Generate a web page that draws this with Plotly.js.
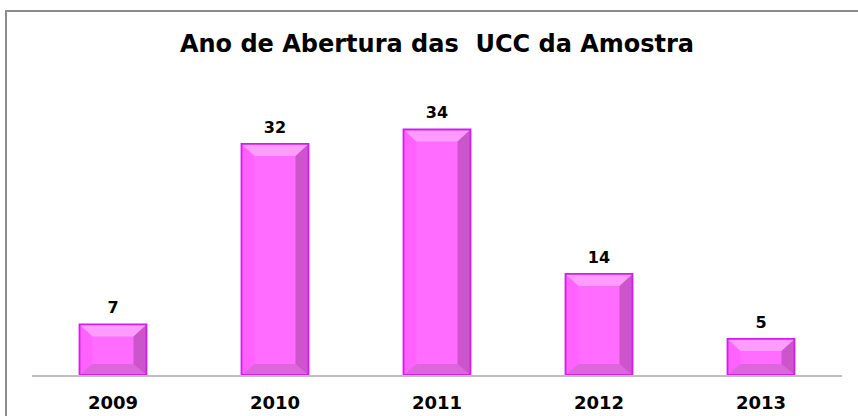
<!DOCTYPE html>
<html>
<head>
<meta charset="utf-8">
<script src="https://cdn.plot.ly/plotly-3.0.1.min.js"></script>
<style>
html,body{margin:0;padding:0;background:#fff;overflow:hidden;}
#chart{width:858px;height:416px;position:absolute;left:0;top:0;}
#frame{position:absolute;left:5px;top:10px;width:900px;height:500px;border-left:2px solid #8c8c8c;border-top:2px solid #8c8c8c;pointer-events:none;}
</style>
</head>
<body>
<div id="chart"></div>
<div id="frame"></div>
<script>
var categories = ['2009', '2010', '2011', '2012', '2013'];
var values = [7, 32, 34, 14, 5];
var chartTitle = 'Ano de Abertura das  UCC da Amostra';

var barWidth = 0.414;
var half = 33.5, bev = 13, bevY = 12;

var shapes = [];
categories.forEach(function (c, i) {
  var v = values[i];
  shapes.push({type: 'rect', xref: 'x', yref: 'y', xsizemode: 'pixel', xanchor: i,
    x0: -half, x1: -half + bev, y0: 0, y1: v, fillcolor: '#ff62ff', line: {width: 0}});
  shapes.push({type: 'rect', xref: 'x', yref: 'y', xsizemode: 'pixel', xanchor: i,
    x0: half - bev, x1: half, y0: 0, y1: v, fillcolor: '#cc55cc', line: {width: 0}});
  shapes.push({type: 'path', xref: 'x', yref: 'y', xsizemode: 'pixel', ysizemode: 'pixel',
    xanchor: i, yanchor: v,
    path: 'M ' + (-half) + ',0 L ' + half + ',0 L ' + (half - bev) + ',' + (-bevY) + ' L ' + (-half + bev) + ',' + (-bevY) + ' Z',
    fillcolor: '#ff9cff', line: {width: 0}});
  shapes.push({type: 'path', xref: 'x', yref: 'y', xsizemode: 'pixel', ysizemode: 'pixel',
    xanchor: i, yanchor: 0,
    path: 'M ' + (-half) + ',0 L ' + half + ',0 L ' + (half - bev) + ',' + (bevY - 1) + ' L ' + (-half + bev) + ',' + (bevY - 1) + ' Z',
    fillcolor: '#dd66dd', line: {width: 0}});
  shapes.push({type: 'rect', xref: 'x', yref: 'y', xsizemode: 'pixel', xanchor: i,
    x0: -half, x1: half, y0: 0, y1: v, fillcolor: 'rgba(0,0,0,0)', line: {width: 1.8, color: '#d21cf4'}});
});

var bars = {
  type: 'bar',
  x: categories,
  y: values,
  width: barWidth,
  marker: {color: '#ff6cff', line: {width: 0}},
  hoverinfo: 'skip'
};

var labels = {
  type: 'scatter',
  mode: 'markers+text',
  x: categories,
  y: values,
  text: values.map(String),
  textposition: 'top center',
  textfont: {family: 'DejaVu Sans', size: 16, color: '#000', weight: 'bold'},
  marker: {size: 10, color: 'rgba(0,0,0,0)'},
  cliponaxis: false,
  hoverinfo: 'skip'
};

var layout = {
  width: 858, height: 416,
  margin: {l: 32, r: 16, t: 60, b: 41, pad: 0},
  paper_bgcolor: '#ffffff', plot_bgcolor: '#ffffff',
  showlegend: false,
  title: {text: chartTitle, x: 0.5, xref: 'paper', xanchor: 'center',
    y: 1 - 44 / 416, yref: 'container', yanchor: 'middle',
    font: {family: 'DejaVu Sans', size: 24, color: '#000', weight: 'bold'}},
  xaxis: {type: 'category', showline: true, linecolor: '#bfbfbf', linewidth: 1.5,
    showgrid: false, zeroline: false, ticks: '', ticklabelstandoff: 11,
    tickfont: {family: 'DejaVu Sans', size: 18, color: '#000', weight: 'bold'},
    range: [-0.5, 4.5], fixedrange: true},
  yaxis: {range: [0, 315 / 7.22], visible: false, showgrid: false, zeroline: false, fixedrange: true},
  shapes: shapes
};

Plotly.newPlot('chart', [bars, labels], layout, {staticPlot: true, displayModeBar: false});
</script>
</body>
</html>
